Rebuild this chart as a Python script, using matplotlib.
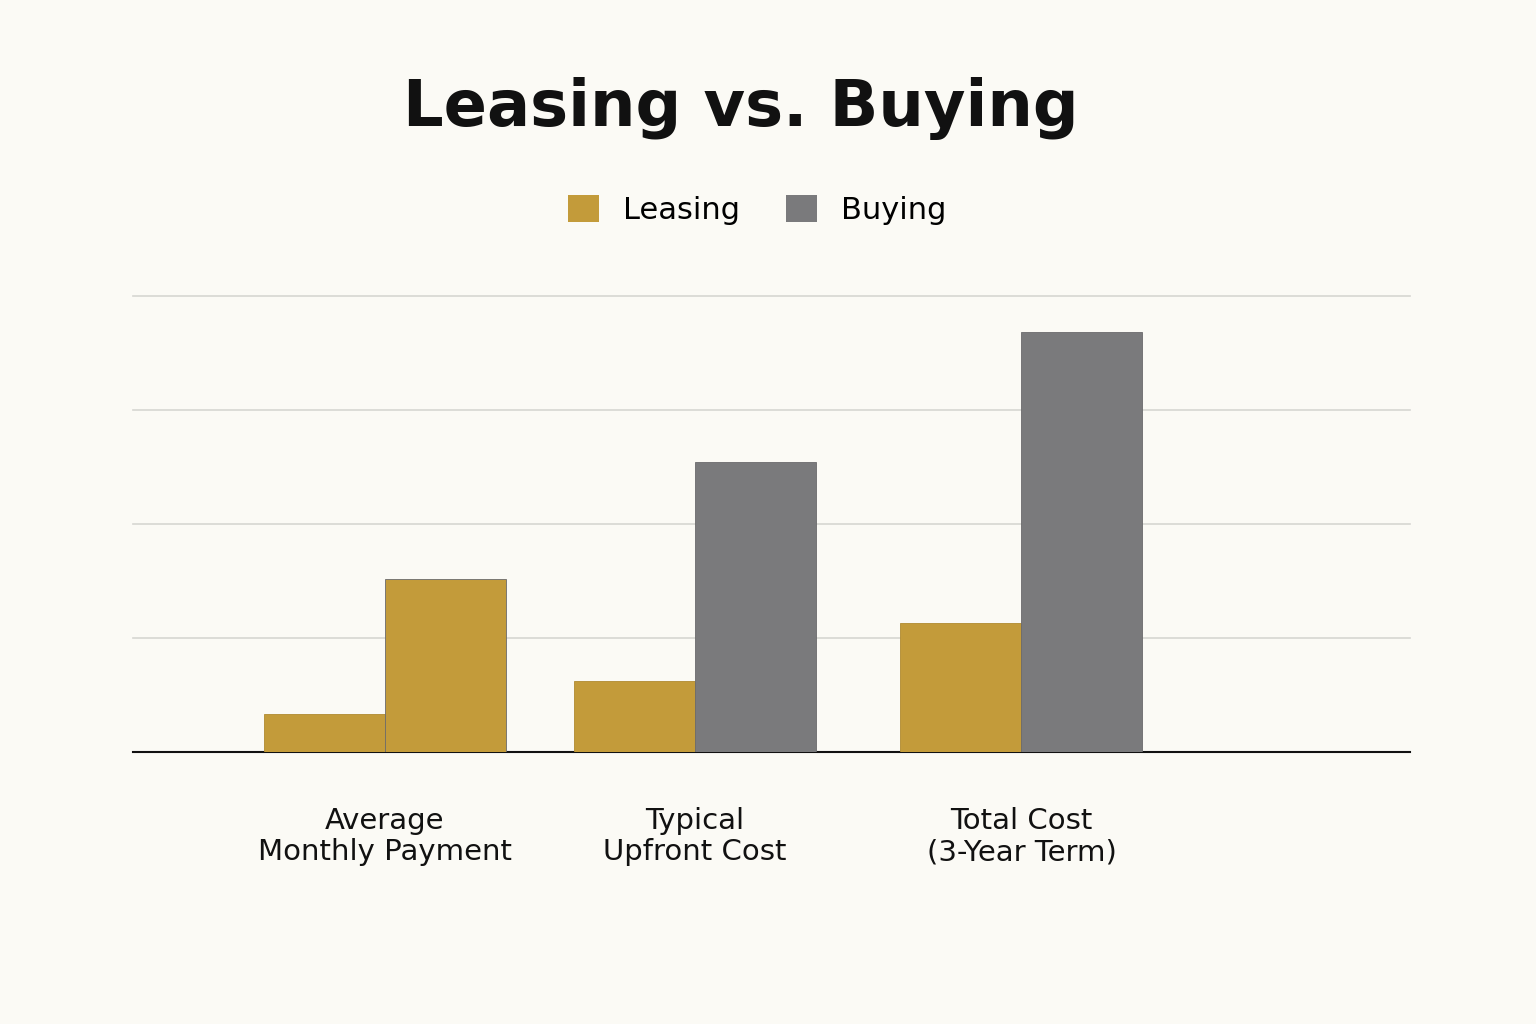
import matplotlib.pyplot as plt
from matplotlib.patches import Patch
import numpy as np

categories = ["Average\nMonthly Payment", "Typical\nUpfront Cost", "Total Cost\n(3-Year Term)"]
leasing = [0.33, 0.62, 1.13]
buying = [1.52, 2.54, 3.68]
buying_colors = ["#c39b3a", "#7a7a7c", "#7a7a7c"]

bg = "#fbfaf5"
gold = "#c39b3a"
gray = "#7a7a7c"

fig = plt.figure(figsize=(15.36, 10.24), dpi=100, facecolor=bg)
ax = fig.add_axes([133/1536, 1-752/1024, 1277/1536, 456/1024], facecolor=bg)
x = np.array([0, 0.975, 2.0])
w = 0.38
ax.bar(x - w/2, leasing, w, color=gold, edgecolor="#b08a30", linewidth=0.6, zorder=3)
ax.bar(x + w/2, buying, w, color=buying_colors, edgecolor="#6a6a6c", linewidth=0.6, zorder=3)
ax.set_xlim(-0.79, 3.22)
ax.set_ylim(0, 4)
ax.set_yticks([1, 2, 3, 4])
ax.yaxis.grid(True, color="#d6d6d2", linewidth=1.2, zorder=0, clip_on=False)
for l in ax.get_ygridlines():
    l.set_clip_on(False)
ax.tick_params(axis="y", left=False, labelleft=False)
ax.tick_params(axis="x", bottom=False, labelsize=21, pad=36)
ax.set_xticks(x)
ax.set_xticklabels(categories, fontsize=21, color="#111111", linespacing=1.15)
for s in ["top", "right", "left"]:
    ax.spines[s].set_visible(False)
ax.spines["bottom"].set_color("#111111")
ax.spines["bottom"].set_linewidth(1.5)

fig.text(0.482, 0.894, "Leasing vs. Buying", ha="center", va="center",
         fontsize=46, fontweight="bold", color="#111111")
handles = [Patch(facecolor=gold, label="Leasing"), Patch(facecolor=gray, label="Buying")]
fig.legend(handles=handles, loc="center", bbox_to_anchor=(0.493, 0.795), ncol=2,
           frameon=False, fontsize=22, handlelength=1.0, handleheight=1.0,
           columnspacing=1.5, handletextpad=0.8)
fig.savefig("out.png", dpi=100, facecolor=bg)
